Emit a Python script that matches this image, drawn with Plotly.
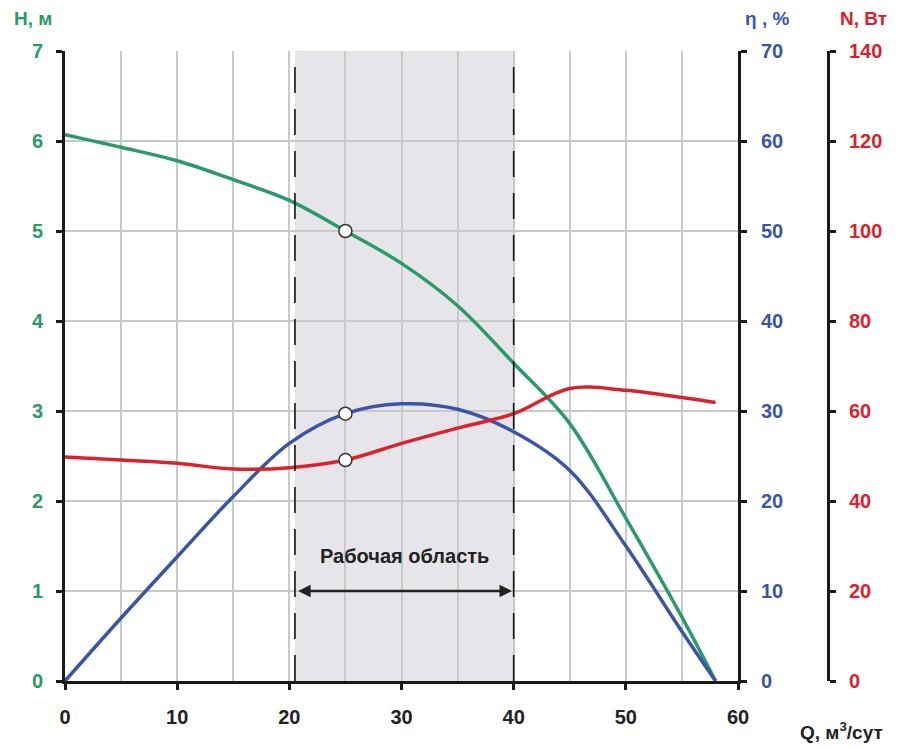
import plotly.graph_objects as go

# Pump performance data, flow Q in m³/day
q = [0, 5, 10, 15, 20, 25, 30, 35, 40, 45, 50, 55, 58]
head_m = [6.07, 5.93, 5.78, 5.57, 5.34, 5.0, 4.64, 4.17, 3.53, 2.86, 1.81, 0.71, 0]
eff_pct = [0, 7.0, 13.8, 20.5, 26.4, 29.7, 30.8, 30.2, 27.7, 23.4, 15.0, 5.5, 0]
power_w = [49.8, 49.1, 48.4, 47.1, 47.4, 49.1, 52.8, 56.2, 59.4, 65.0, 64.6, 63.0, 61.9]

duty_q = 25                     # rated duty point
work_range = [20.5, 40]         # working zone limits
x_ticks = [0, 10, 20, 30, 40, 50, 60]
h_ticks = [0, 1, 2, 3, 4, 5, 6, 7]
eff_ticks = [0, 10, 20, 30, 40, 50, 60, 70]
pow_ticks = [0, 20, 40, 60, 80, 100, 120, 140]

GREEN = "#2a9b68"
BLUE = "#3a55a6"
RED = "#d9222c"
DARK = "#222222"
GRID = "#c9c9c9"
FONT = "Liberation Sans, Arial"

W, H = 901, 747
ML, MR, MT, MB = 65, 60, 51, 66
plot_w = 673
paper_w = W - ML - MR
x_dom_end = plot_w / paper_w
n_axis_pos = (828 - ML) / paper_w

di = q.index(duty_q)

fig = go.Figure()

line_kw = dict(mode="lines", line_shape="spline", hoverinfo="skip", showlegend=False)
fig.add_trace(go.Scatter(x=q, y=power_w, yaxis="y3", line=dict(color=RED, width=3.5, smoothing=1.0), **line_kw))
fig.add_trace(go.Scatter(x=q, y=eff_pct, yaxis="y2", line=dict(color=BLUE, width=3.5, smoothing=1.0), **line_kw))
fig.add_trace(go.Scatter(x=q, y=head_m, yaxis="y", line=dict(color=GREEN, width=3.5, smoothing=1.0), **line_kw))

marker_kw = dict(mode="markers", showlegend=False, hoverinfo="skip",
                 marker=dict(size=13, color="white", line=dict(color="#333333", width=1.5)))
fig.add_trace(go.Scatter(x=[q[di]], y=[power_w[di]], yaxis="y3", **marker_kw))
fig.add_trace(go.Scatter(x=[q[di]], y=[eff_pct[di]], yaxis="y2", **marker_kw))
fig.add_trace(go.Scatter(x=[q[di]], y=[head_m[di]], yaxis="y", **marker_kw))

# working zone shading and limits
fig.add_shape(type="rect", xref="x", yref="y", x0=work_range[0], x1=work_range[1], y0=0, y1=7,
              fillcolor="#e6e6ea", line_width=0, layer="below")
for xv in work_range:
    fig.add_shape(type="line", xref="x", yref="y", x0=xv, x1=xv, y0=0, y1=6.95,
                  line=dict(color="#111111", width=1.6, dash="26px,16px"), layer="above")

fig.add_annotation(x=work_range[1] - 0.15, y=1, ax=work_range[0] + 0.15, ay=1, xref="x", yref="y",
                   axref="x", ayref="y", text="", showarrow=True, arrowhead=2, arrowside="end+start",
                   arrowsize=1, arrowwidth=2.5, arrowcolor=DARK)
fig.add_annotation(x=sum(work_range) / 2, y=1.39, xref="x", yref="y", text="<b>Рабочая область</b>",
                   showarrow=False, font=dict(family=FONT, size=20, color=DARK))

fig.layout.margin = dict(l=ML, r=MR, t=MT, b=MB, pad=0)


def paper_title(text, px, py, color):
    fig.add_annotation(x=(px - ML) / paper_w, y=(H - MB - py) / (H - MT - MB), xref="paper", yref="paper",
                       text=f"<b>{text}</b>", showarrow=False,
                       font=dict(family=FONT, size=19, color=color), xanchor="center", yanchor="middle")


paper_title("H, м", 33, 19, GREEN)
paper_title("η , %", 767, 19, BLUE)
paper_title("N, Вт", 864, 19, RED)
paper_title("Q, м<sup>3</sup>/сут", 841, 731, DARK)

axis_common = dict(showline=True, linecolor="#1a1a1a", linewidth=3, ticks="outside", ticklen=6,
                   tickwidth=3, tickcolor="#1a1a1a", zeroline=False, automargin=False, fixedrange=True)


def tfont(color):
    return dict(family=FONT, size=20, color=color, weight="bold")


fig.update_layout(
    width=W, height=H,
    paper_bgcolor="white", plot_bgcolor="white",
    xaxis=dict(domain=[0, x_dom_end], range=[0, 60], tickvals=x_ticks, showgrid=True,
               gridcolor=GRID, gridwidth=2,
               minor=dict(dtick=5, tick0=0, showgrid=True, gridcolor=GRID, gridwidth=2, ticks=""),
               tickfont=tfont(DARK), ticklabelstandoff=10, **axis_common),
    yaxis=dict(range=[0, 7], tickvals=h_ticks, showgrid=True, gridcolor=GRID, gridwidth=2,
               tickfont=tfont(GREEN), ticklabelstandoff=9, **axis_common),
    yaxis2=dict(range=[0, 70], tickvals=eff_ticks, overlaying="y", side="right", anchor="x",
                showgrid=False, tickfont=tfont(BLUE), ticklabelstandoff=10, **axis_common),
    yaxis3=dict(range=[0, 140], tickvals=pow_ticks, overlaying="y", side="right", anchor="free",
                position=n_axis_pos, showgrid=False, tickfont=tfont(RED), ticklabelstandoff=9,
                **axis_common),
)

fig.write_html("out.html")
